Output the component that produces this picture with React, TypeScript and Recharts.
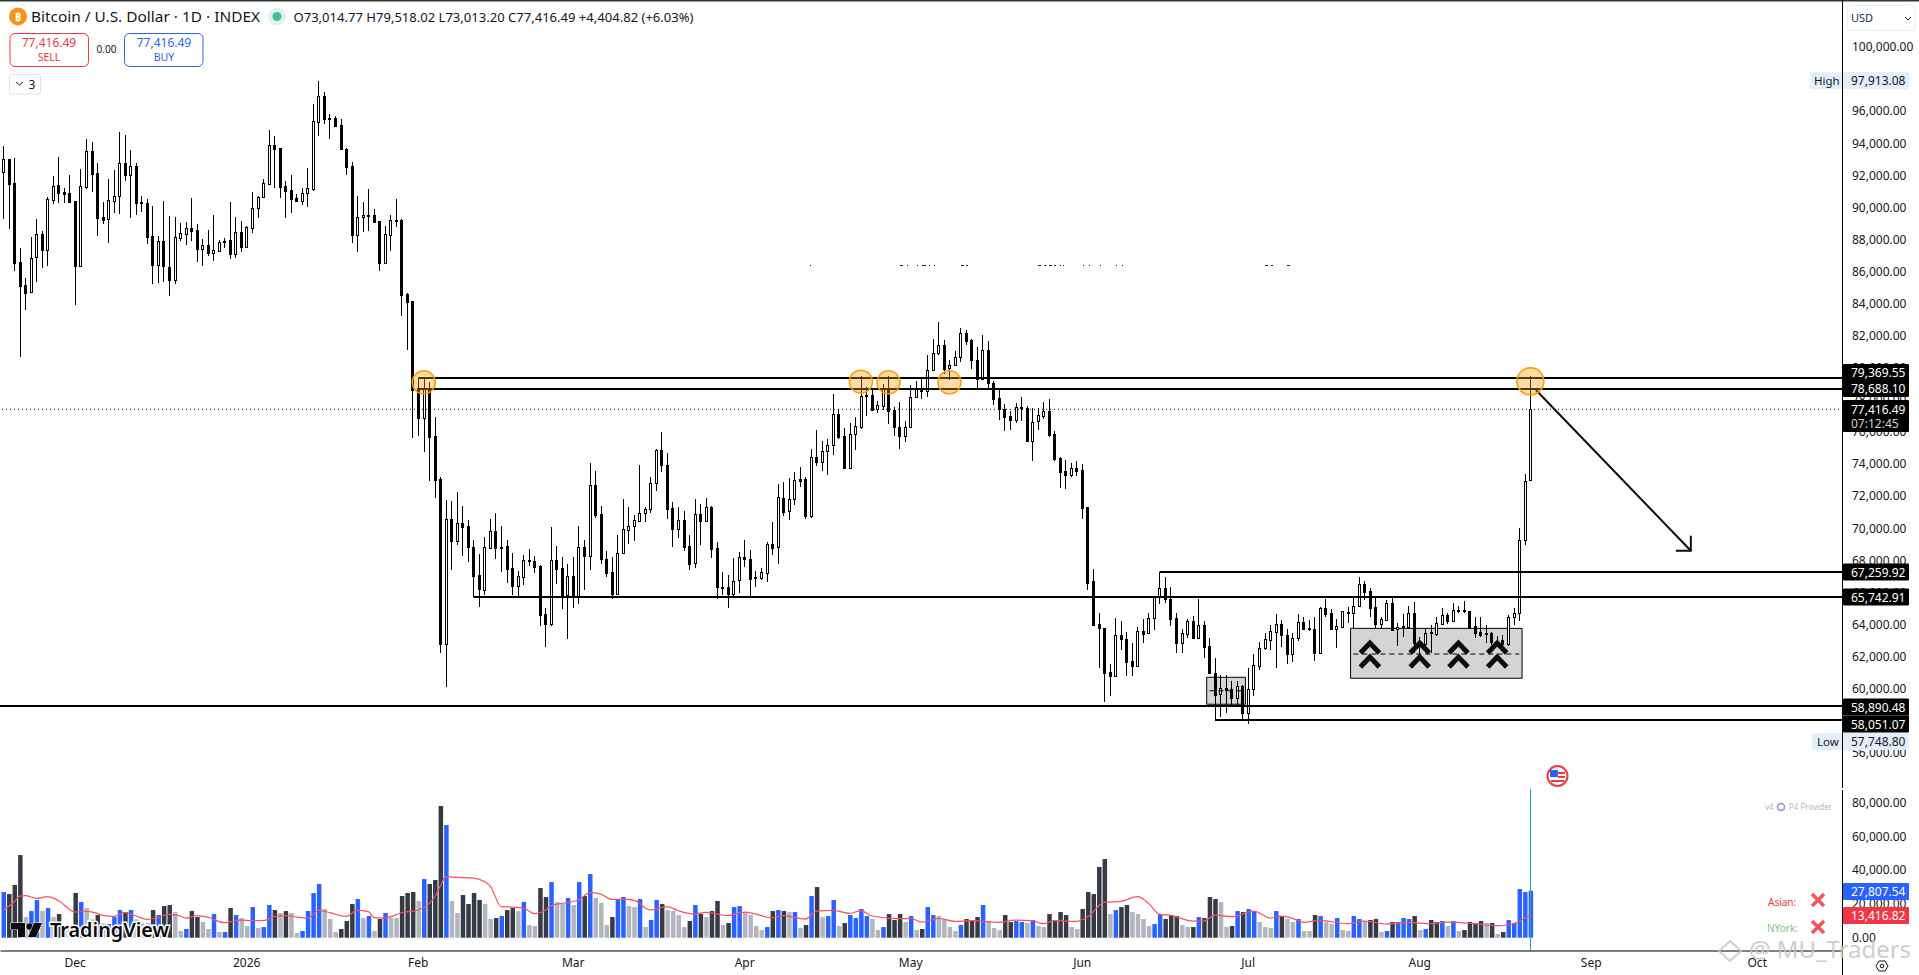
import { Bar, Cell, ComposedChart, Line, ReferenceArea, ReferenceDot, ReferenceLine, XAxis, YAxis } from "recharts"

// daily candles, thousands of USD
const opens = [
  92.23, 93.02, 91.51, 86.58, 85.14, 84.75, 86.89, 88.33, 87.37, 90.49,
  91.38, 90.97, 90.88, 90.38, 86.35, 91.3, 93.5, 92.13, 89.41, 89.26,
  90.43, 90.7, 92.75, 92.05, 92.57, 90.34, 90.26, 88.2, 86.42, 87.89,
  86.29, 85.5, 88.12, 88.37, 88.7, 88.58, 87.43, 87.64, 87.18, 87.31,
  87.89, 87.95, 87.12, 88.45, 87.56, 88.74, 89.95, 90.63, 91.49, 93.88,
  93.69, 91.32, 91.07, 90.57, 90.43, 90.92, 91.17, 95.35, 96.93, 95.58,
  95.56, 95.12, 93.65, 92.57, 88.31, 89.39, 89.53, 89.51, 89.14, 86.56,
  88.31, 89.2, 89.2, 84.59, 84.17, 78.73, 76.9, 78.73, 75.73, 73.05,
  62.81, 70.56, 69.23, 70.31, 70.12, 68.81, 67.07, 66.17, 68.75, 69.81,
  68.85, 68.88, 67.5, 66.42, 66.98, 68.02, 67.96, 67.65, 64.64, 64.03,
  68.0, 67.5, 65.84, 67.0, 65.78, 68.81, 68.3, 72.68, 70.87, 68.07,
  67.25, 65.92, 68.44, 69.91, 70.16, 70.48, 70.93, 71.18, 72.8, 74.88,
  73.93, 71.24, 69.94, 70.5, 68.88, 67.86, 70.87, 70.48, 71.3, 68.75,
  66.32, 66.32, 65.92, 66.76, 68.19, 68.07, 66.96, 66.92, 67.23, 69.0,
  68.81, 71.87, 71.06, 71.8, 73.05, 73.05, 70.74, 74.42, 74.15, 74.8,
  75.17, 77.1, 75.73, 73.78, 75.86, 76.29, 78.31, 78.31, 77.44, 77.65,
  78.66, 77.37, 76.34, 75.73, 76.3, 78.2, 78.66, 78.54, 79.85, 80.91,
  81.41, 80.01, 80.2, 80.66, 82.15, 81.74, 80.47, 79.29, 81.09, 79.04,
  78.1, 77.42, 77.0, 76.77, 77.54, 77.52, 75.46, 76.67, 77.02, 77.29,
  75.86, 74.36, 73.55, 73.34, 73.78, 73.61, 71.31, 66.7, 64.01, 63.76,
  61.02, 60.81, 63.33, 63.08, 61.71, 61.44, 63.58, 63.5, 64.39, 65.7,
  66.26, 65.59, 64.39, 62.87, 63.43, 64.24, 63.18, 63.95, 62.64, 61.0,
  59.69, 60.02, 59.96, 59.44, 60.17, 58.5, 59.96, 61.44, 62.52, 63.06,
  63.56, 64.01, 63.35, 62.18, 63.14, 64.14, 63.76, 63.7, 62.25, 65.01,
  64.7, 63.74, 63.87, 64.76, 64.7, 65.18, 66.5, 66.07, 65.07, 64.05,
  64.3, 65.32, 63.7, 63.89, 63.87, 64.7, 62.83, 62.77, 63.56, 63.43,
  64.05, 64.57, 64.24, 64.9, 64.88, 64.82, 63.91, 63.53, 63.47, 63.45,
  63.0, 63.03, 62.79, 64.49, 64.7, 69.3, 73.01,
]
const highs = [
  93.83, 93.04, 93.09, 87.45, 85.58, 88.14, 89.26, 88.51, 90.63, 91.94,
  93.13, 91.2, 92.01, 90.43, 92.38, 94.25, 94.06, 92.75, 90.32, 91.76,
  92.32, 94.69, 94.52, 93.56, 92.75, 90.72, 90.51, 90.09, 88.2, 90.41,
  89.47, 89.39, 89.01, 89.1, 90.59, 88.97, 88.04, 88.6, 89.53, 87.95,
  88.08, 90.32, 89.39, 89.14, 88.83, 90.95, 90.72, 91.76, 94.81, 94.46,
  93.69, 91.63, 92.01, 90.82, 91.2, 92.44, 96.43, 97.91, 97.18, 95.81,
  95.68, 95.5, 93.69, 92.82, 90.72, 90.32, 91.13, 89.89, 89.18, 88.83,
  89.53, 90.51, 89.26, 84.65, 84.17, 79.35, 79.35, 79.14, 76.92, 73.22,
  71.77, 71.68, 72.24, 71.39, 70.5, 69.25, 68.4, 69.46, 70.58, 70.93,
  70.12, 69.25, 68.44, 67.34, 68.33, 68.69, 68.27, 67.71, 65.01, 70.06,
  68.9, 68.2, 67.75, 68.2, 70.12, 69.25, 74.05, 73.57, 71.41, 68.58,
  68.2, 69.56, 71.8, 71.3, 70.83, 73.93, 71.3, 73.18, 74.94, 75.98,
  74.67, 71.62, 71.35, 71.06, 69.56, 71.8, 71.5, 71.87, 71.39, 69.14,
  67.28, 67.07, 68.13, 68.52, 69.25, 68.63, 67.32, 67.5, 69.12, 70.37,
  72.74, 72.87, 73.12, 73.51, 73.8, 73.18, 74.92, 76.13, 75.42, 75.55,
  78.35, 77.42, 76.23, 76.54, 76.92, 79.5, 78.8, 78.66, 77.93, 79.0,
  79.5, 77.54, 77.9, 76.67, 78.91, 79.16, 79.33, 80.78, 81.78, 82.84,
  81.72, 80.47, 81.03, 82.47, 82.36, 81.78, 81.28, 82.03, 81.66, 79.16,
  78.66, 77.73, 77.29, 77.79, 78.2, 77.6, 77.5, 77.48, 77.85, 78.04,
  76.05, 74.46, 74.24, 74.05, 74.17, 74.01, 71.31, 67.44, 64.7, 63.76,
  61.52, 64.39, 64.2, 63.52, 62.83, 63.87, 64.33, 64.7, 65.7, 67.27,
  66.94, 66.32, 64.7, 63.72, 64.33, 64.51, 65.57, 64.2, 63.14, 61.89,
  60.86, 60.86, 60.48, 60.5, 60.23, 61.27, 62.14, 62.89, 63.45, 63.95,
  64.66, 64.28, 63.7, 63.45, 64.64, 64.45, 64.28, 64.49, 65.07, 65.59,
  64.95, 64.32, 64.82, 65.07, 65.7, 66.94, 66.71, 66.26, 65.7, 64.45,
  65.53, 65.7, 64.08, 64.66, 65.16, 65.38, 63.2, 63.72, 63.97, 64.49,
  65.01, 64.74, 65.32, 65.15, 65.44, 64.82, 64.47, 64.47, 63.97, 63.55,
  63.3, 63.35, 64.57, 65.01, 70.0, 73.36, 79.52,
]
const lows = [
  89.3, 88.68, 86.06, 80.64, 83.57, 84.75, 85.36, 86.19, 86.35, 90.18,
  90.28, 90.28, 90.34, 83.94, 86.27, 91.11, 90.97, 88.18, 88.97, 87.78,
  89.66, 89.6, 91.67, 89.3, 89.53, 89.72, 87.68, 85.25, 85.3, 85.38,
  84.5, 85.19, 87.87, 87.66, 87.91, 86.6, 86.37, 87.0, 86.66, 87.18,
  87.43, 86.79, 86.81, 87.18, 87.43, 88.37, 89.35, 90.61, 91.49, 91.22,
  90.59, 89.3, 89.66, 90.34, 90.16, 90.03, 91.01, 94.46, 95.16, 94.27,
  95.02, 93.63, 91.98, 87.78, 87.23, 88.47, 88.54, 89.1, 86.06, 86.5,
  87.29, 88.78, 83.24, 81.07, 75.65, 75.71, 74.71, 72.97, 71.85, 62.25,
  60.13, 67.36, 68.92, 68.3, 67.9, 65.72, 65.11, 65.84, 68.7, 68.09,
  67.28, 66.59, 65.84, 65.78, 66.46, 67.65, 67.2, 63.93, 62.56, 63.91,
  66.53, 64.97, 63.06, 65.05, 65.28, 66.15, 67.4, 70.66, 67.77, 66.98,
  65.61, 65.84, 68.4, 69.02, 69.2, 70.35, 70.35, 70.91, 72.35, 73.49,
  70.54, 68.79, 69.42, 68.54, 67.36, 67.48, 68.92, 70.41, 68.15, 65.57,
  65.86, 65.01, 65.78, 65.99, 67.57, 65.78, 66.3, 66.78, 66.61, 68.33,
  67.73, 70.72, 70.48, 71.45, 72.55, 70.54, 70.62, 73.88, 73.57, 73.32,
  74.57, 75.55, 73.78, 73.72, 74.84, 76.17, 77.02, 77.33, 77.21, 77.37,
  76.5, 75.71, 74.96, 75.34, 76.25, 78.08, 78.08, 78.19, 79.81, 80.78,
  79.6, 79.25, 80.16, 80.33, 81.4, 79.89, 78.73, 79.22, 78.73, 77.65,
  76.71, 76.02, 76.13, 76.52, 76.73, 75.34, 74.22, 76.09, 76.8, 75.65,
  74.15, 72.53, 72.41, 73.16, 73.26, 70.6, 66.11, 63.99, 61.29, 59.13,
  59.5, 60.75, 62.41, 60.75, 60.75, 61.42, 62.81, 63.45, 63.62, 65.3,
  65.32, 63.87, 62.18, 62.25, 63.16, 63.16, 63.16, 61.87, 61.0, 58.05,
  58.24, 58.46, 58.9, 58.9, 58.05, 57.75, 59.54, 61.17, 62.41, 62.41,
  61.29, 62.62, 61.52, 61.66, 62.93, 63.62, 63.62, 61.75, 62.2, 64.49,
  63.7, 62.5, 63.87, 64.08, 63.76, 65.18, 65.53, 64.45, 63.7, 63.7,
  64.24, 63.56, 62.66, 63.24, 63.7, 62.2, 62.0, 62.4, 62.2, 63.3,
  63.97, 64.03, 64.12, 64.7, 64.7, 63.77, 63.14, 63.24, 62.87, 62.72,
  62.6, 62.6, 62.66, 63.97, 64.18, 68.92, 73.01,
]
const closes = [
  93.0, 91.49, 86.56, 85.12, 84.69, 86.83, 88.33, 87.35, 90.51, 91.32,
  90.92, 90.84, 90.34, 86.35, 91.32, 93.5, 92.11, 89.37, 89.22, 90.45,
  90.7, 92.75, 92.05, 92.57, 90.28, 90.28, 88.18, 86.42, 87.89, 86.35,
  85.48, 88.14, 88.39, 88.7, 88.54, 87.43, 87.64, 87.18, 87.33, 87.83,
  87.85, 87.12, 88.45, 87.56, 88.76, 89.95, 90.63, 91.51, 93.88, 93.67,
  91.3, 91.05, 90.55, 90.43, 90.88, 91.2, 95.37, 96.93, 95.54, 95.54,
  95.08, 93.65, 92.55, 88.31, 89.39, 89.51, 89.49, 89.12, 86.56, 88.33,
  89.2, 89.16, 84.55, 84.13, 78.62, 76.9, 78.73, 75.71, 73.01, 62.81,
  70.56, 69.23, 70.31, 70.1, 68.81, 67.05, 66.24, 68.81, 69.81, 68.79,
  68.79, 67.48, 66.42, 67.0, 68.0, 67.98, 67.61, 64.6, 64.03, 68.0,
  67.48, 65.84, 67.0, 65.72, 68.81, 68.3, 72.68, 70.85, 68.09, 67.23,
  65.92, 68.44, 69.94, 70.16, 70.5, 70.93, 71.18, 72.8, 74.88, 73.93,
  71.22, 69.94, 70.5, 68.85, 67.8, 70.87, 70.48, 71.3, 68.73, 66.36,
  66.28, 65.92, 66.69, 68.19, 68.07, 66.86, 66.92, 67.25, 69.0, 68.79,
  71.93, 71.02, 71.8, 72.99, 72.97, 70.74, 74.42, 74.15, 74.8, 75.17,
  77.1, 75.71, 73.78, 75.86, 76.36, 78.23, 78.25, 77.37, 77.67, 78.66,
  77.33, 76.34, 75.73, 76.3, 78.2, 78.66, 78.54, 79.85, 80.91, 81.41,
  79.91, 80.16, 80.66, 82.15, 81.7, 80.47, 79.29, 81.09, 79.04, 78.08,
  77.42, 76.96, 76.77, 77.54, 77.5, 75.44, 76.65, 77.04, 77.29, 75.84,
  74.34, 73.53, 73.34, 73.78, 73.59, 71.29, 66.61, 63.99, 63.81, 61.0,
  60.81, 63.33, 63.08, 61.69, 61.44, 63.58, 63.43, 64.39, 65.7, 66.26,
  65.57, 64.37, 62.87, 63.47, 64.2, 63.18, 63.95, 62.62, 61.0, 59.63,
  60.02, 59.92, 59.44, 60.15, 58.48, 59.96, 61.46, 62.52, 63.08, 63.58,
  64.03, 63.33, 62.18, 63.14, 64.14, 63.74, 63.72, 62.25, 65.01, 64.66,
  63.74, 63.89, 64.82, 64.7, 65.18, 66.5, 66.05, 65.05, 64.03, 64.32,
  65.32, 63.66, 63.83, 63.85, 64.7, 62.83, 62.9, 63.5, 63.47, 64.08,
  64.57, 64.24, 64.88, 64.84, 64.84, 63.8, 63.49, 63.35, 63.43, 62.91,
  62.8, 62.79, 64.45, 64.7, 69.3, 72.97, 77.42,
]

const volumes = [
  27060, 25870, 31200, 48980, 12250, 15800, 22320, 15800, 17580, 12250,
  14020, 6520, 5530, 26470, 21130, 17580, 10860, 13430, 8490, 8100,
  12250, 16390, 15210, 16390, 10860, 8490, 8490, 16390, 13430, 18760,
  19360, 15210, 3950, 5140, 15800, 12250, 9280, 5140, 14020, 3360,
  3360, 17580, 13430, 11650, 6910, 18170, 5730, 6320, 19360, 16390,
  14620, 15800, 14620, 2770, 3950, 15800, 26470, 31800, 16990, 11060,
  3360, 5140, 9880, 19950, 22910, 11650, 12840, 3950, 11060, 14620,
  11650, 11650, 24690, 26470, 27060, 21730, 34760, 31800, 34170, 78010,
  66760, 21730, 14620, 25280, 19950, 26470, 22320, 19950, 11060, 11650,
  12840, 16390, 17580, 15800, 21130, 7510, 6910, 29430, 24100, 32980,
  21130, 19950, 23500, 19360, 32980, 24690, 37720, 23500, 20540, 7510,
  12250, 22320, 24100, 18760, 18170, 22910, 6320, 10470, 22320, 19950,
  16390, 15800, 13430, 6320, 9880, 19360, 14020, 12250, 15800, 21730,
  7510, 8690, 18170, 18760, 15210, 13430, 6910, 4540, 6320, 15800,
  16390, 15800, 15210, 15210, 5730, 7510, 24690, 30020, 12250, 12840,
  22320, 6910, 8690, 13430, 11650, 16990, 12840, 11060, 4540, 6320,
  14020, 10470, 14020, 9280, 12840, 4540, 5140, 18170, 13430, 12840,
  11060, 6320, 3950, 7510, 11060, 9880, 12250, 19360, 9880, 5730,
  4540, 13430, 9280, 9880, 9280, 8690, 10470, 6910, 6320, 14020,
  10470, 15210, 13430, 6320, 5140, 16990, 27060, 25870, 41870, 46610,
  14020, 16390, 18170, 19360, 15210, 14020, 11060, 6910, 8100, 14020,
  11060, 13430, 12840, 7510, 6320, 6320, 12250, 11650, 24100, 22910,
  21130, 6320, 6910, 15800, 15210, 16990, 15800, 9280, 6320, 5730,
  15800, 12840, 11060, 9280, 11060, 3950, 3950, 13430, 12840, 9280,
  8100, 11650, 4540, 3950, 12840, 11060, 9880, 10470, 11060, 3360,
  3950, 9280, 9280, 11650, 11060, 12840, 4540, 5140, 10470, 9280,
  9880, 6910, 9880, 3950, 4540, 9280, 8100, 9880, 8690, 8690,
  2170, 3360, 10470, 8690, 28840, 27060, 27807,
]
// b blue, d dark, g grey
const volumeKinds = (
  "bdddgbbgbg" + "dggdbggdgb" + "bbdbgggdbd" + "dggbddggbg" + "bdbggbgbbd" +
  "gdggbbbbgg" + "gdddbgbgdb" + "ggdddgbddd" + "bggddddggd" + "bddgbggddb" +
  "ggbgbdbggg" + "dbbggbgbbd" + "ggggdbdgdd" + "gdbbggggbd" + "bdgbgdbdgb" +
  "bgdbbbbggb" + "dddgbgdbbg" + "gggbdddbgg" + "gddbbgbggd" + "dddggddddd" +
  "gbddggggbb" + "dddggdbddd" + "ggdbdbbggg" + "bdggbggdbg" + "gbggbbgddg" +
  "bdbbbdgbdd" + "bgbgddddgd" + "gdbbbbb"
).split("")

const maIndexes = [
  0, 2, 3, 4, 6, 8, 10, 13, 15, 17, 18, 20, 22, 24, 26, 28, 30, 32, 33, 35, 37, 40, 43, 45, 47, 49, 51, 54, 55, 57,
  59, 62, 64, 66, 67, 69, 72, 75, 77, 78, 79, 80, 82, 85, 87, 88, 90, 92, 94, 96, 98, 99, 101, 104, 106, 108, 110, 113, 115,
  116, 117, 120, 122, 125, 127, 131, 134, 139, 141, 145, 147, 150, 153, 155, 157, 162, 164, 166, 169, 172, 175, 180,
  183, 186, 188, 190, 194, 196, 199, 202, 205, 207, 209, 211, 215, 217, 219, 222, 226, 229,
  231, 233, 235, 238, 243, 246, 250, 254, 258, 261, 266, 270, 272, 276,
]
const maValues = [
  16390, 21330, 24690, 24890, 23300, 24290, 21920, 15210, 15600, 14420, 13230, 12640, 14810, 12840, 10860, 12050, 13830, 12840, 11650, 13040, 12050, 8890, 10470, 10070, 10070, 12440, 13040, 11850, 11650, 16200,
  14810, 12640, 16390, 15410, 11850, 11650, 14810, 16390, 20340, 24290, 30610, 36140, 35750, 35350, 33180, 30610, 18370, 18170, 17580, 14220, 16390, 18960, 20340, 22320, 26660, 25870, 22710, 22710, 20540,
  17580, 16390, 18370, 16000, 14020, 15010, 13040, 15210, 11850, 13040, 11060, 15800, 16200, 14420, 16000, 12840, 11260, 11460, 9280, 11460, 9680, 10070, 9090,
  10470, 10070, 8300, 10070, 9680, 12440, 20940, 21530, 24290, 20340, 13830, 13230, 9880, 9880, 13430, 12440, 15800, 11650,
  12840, 11460, 9090, 10270, 8300, 9880, 8100, 9090, 8300, 9280, 8300, 7110, 7510, 13416,
]

const priceTicks = [56000, 58000, 60000, 62000, 64000, 66000, 68000, 70000, 72000, 74000, 76000, 78000, 80000, 82000, 84000, 86000, 88000, 90000, 92000, 94000, 96000, 98000, 100000]
const volumeTicks = [0, 20000, 40000, 60000, 80000]
const monthTicks = ["2025-12-01", "2026-01-01", "2026-02-01", "2026-03-01", "2026-04-01", "2026-05-01", "2026-06-01", "2026-07-01", "2026-08-01", "2026-09-01", "2026-10-01"]
const monthLabels = ["Dec", "2026", "Feb", "Mar", "Apr", "May", "Jun", "Jul", "Aug", "Sep", "Oct"]

// levels drawn on the chart: price, index of the bar they start on
const levelPrices = [79369.55, 78688.1, 67259.92, 65742.91, 58890.48, 58051.07]
const levelStarts = [75, 75, 209, 85, 0, 219]
const circleBars = [76, 155, 160, 171, 276]
const circlePrices = [79100, 79140, 79100, 79100, 79160]
const chevronBars = [247, 256, 263, 270]
// leftovers of a blanked out text line, x and width
const speckXs = [810, 900, 907, 917, 922, 929, 934, 961, 966, 1038, 1044, 1049, 1054, 1060, 1063, 1083, 1089, 1100, 1116, 1122, 1265, 1271, 1287]
const speckWidths = [1, 3, 1, 1, 4, 1, 1, 3, 2, 3, 2, 3, 2, 1, 1, 1, 1, 1, 1, 1, 3, 2, 3]

const TOTAL_SLOTS = 333
const WIDTH = 1919
const AXIS_W = 76
const PLOT_RIGHT = WIDTH - AXIS_W
const FONT = "'Noto Sans', sans-serif"
const INK = "#131722"

const START = Date.UTC(2025, 10, 18)
const days = Array.from({ length: TOTAL_SLOTS }, (_, i) => new Date(START + i * 86400000).toISOString().slice(0, 10))

const maByIndex = new Map(maIndexes.map((idx, k) => [idx, maValues[k]]))
const rows = days.map((day, i) =>
  i < opens.length
    ? {
        day,
        open: opens[i] * 1000,
        high: highs[i] * 1000,
        low: lows[i] * 1000,
        close: closes[i] * 1000,
        range: [lows[i] * 1000, highs[i] * 1000],
        volume: volumes[i],
        kind: volumeKinds[i],
        ma: maByIndex.get(i),
      }
    : { day },
)

const kindColors: Record<string, string> = { b: "#2962ff", d: "#363a45", g: "#b2b5be" }

const money = (v: number) => v.toLocaleString("en-US", { minimumFractionDigits: 2, maximumFractionDigits: 2 })

function Candle(props: any) {
  const { x, y, width, height, payload } = props
  if (payload.high === undefined || !Number.isFinite(y)) return null
  const { open, high, low, close } = payload
  const toY = (v: number) => Math.round(y + ((high - v) / (high - low)) * height)
  const px = Math.round(x + width / 2 - 0.5)
  const top = toY(Math.max(open, close))
  const bottom = Math.max(toY(Math.min(open, close)), top + 1)
  return (
    <g shapeRendering="crispEdges">
      <rect x={px} y={Math.round(y)} width={1} height={Math.max(1, Math.round(height))} fill="#000" />
      <rect x={px - 1} y={top} width={3} height={bottom - top + 1} fill="#000" />
      {close >= open && <rect x={px} y={top + 1} width={1} height={bottom - top - 1} fill="#fff" />}
    </g>
  )
}

// runs a level on to the price scale, the one that starts on the first bar also to the left edge
const levelShape = (p: any, fromEdge: boolean) => {
  const y = Math.round(p.y1)
  return <line x1={fromEdge ? 0 : p.x1} y1={y} x2={PLOT_RIGHT} y2={y} stroke="#000" strokeWidth={2} />
}

const arrowShape = (p: any) => (
  <g stroke="#0d0d0d" strokeWidth={2} fill="none">
    <line x1={p.x1} y1={p.y1} x2={p.x2} y2={p.y2} />
    <polyline points={`${p.x2},${p.y2 - 15} ${p.x2},${p.y2} ${p.x2 - 15},${p.y2}`} />
  </g>
)

const chevronShape = (p: any) => {
  const { cx, cy } = p
  const arm = (dy: number) => `${cx - 9.5},${cy + dy + 10} ${cx},${cy + dy} ${cx + 9.5},${cy + dy + 10}`
  return (
    <g fill="none" stroke="#0c0c0c" strokeWidth={5}>
      <polyline points={arm(-11)} />
      <polyline points={arm(3)} />
    </g>
  )
}

function PriceChart() {
  return (
    <ComposedChart width={WIDTH} height={788} data={rows} barCategoryGap={0} margin={{ top: 0, right: 0, bottom: 0, left: 0.5 }}>
      <XAxis dataKey="day" hide />
      <YAxis
        orientation="right"
        width={AXIS_W}
        domain={[53808, 102935]}
        allowDataOverflow
        ticks={priceTicks}
        interval={0}
        axisLine={false}
        tickLine={false}
        tickSize={0}
        tickMargin={9}
        tickFormatter={money}
        tick={{ fontSize: 12, fill: INK, fontFamily: FONT }}
      />
      <ReferenceArea x1={days[244]} x2={days[274]} y1={60650} y2={63760} fill="#d4d4d4" fillOpacity={1} stroke="#000" strokeWidth={1} />
      <ReferenceArea x1={days[218]} x2={days[224]} y1={59030} y2={60710} fill="#d4d4d4" fillOpacity={1} stroke="#000" strokeWidth={1} />
      <ReferenceLine y={77416.49} stroke="#000" strokeDasharray="1 3" strokeWidth={1} />
      <Bar dataKey="range" shape={<Candle />} isAnimationActive={false} />
      <ReferenceLine segment={[{ x: days[244], y: 62160 }, { x: days[274], y: 62160 }]} stroke="#000" strokeDasharray="5 4" strokeWidth={1} />
      <ReferenceLine segment={[{ x: days[218], y: 59870 }, { x: days[224], y: 59870 }]} stroke="#000" strokeDasharray="5 4" strokeWidth={1} />
      {levelPrices.map((price, k) => (
        <ReferenceLine
          key={price}
          segment={[{ x: days[levelStarts[k]], y: price }, { x: days[TOTAL_SLOTS - 1], y: price }]}
          shape={(p: any) => levelShape(p, levelStarts[k] === 0)}
        />
      ))}
      <ReferenceLine segment={[{ x: days[277], y: 78620 }, { x: days[305], y: 68600 }]} shape={arrowShape} />
      {chevronBars.map((bar) => (
        <ReferenceDot key={bar} x={days[bar]} y={62160} r={1} shape={chevronShape} />
      ))}
      {circleBars.map((bar, k) => (
        <ReferenceDot
          key={bar}
          x={days[bar]}
          y={circlePrices[k]}
          r={k === 4 ? 13.5 : 11.5}
          fill="#ff9800"
          fillOpacity={0.35}
          stroke="#ff9800"
          strokeWidth={1.5}
        />
      ))}
    </ComposedChart>
  )
}

function VolumeChart() {
  return (
    <ComposedChart width={WIDTH} height={186} data={rows} barCategoryGap={0} margin={{ top: 0, right: 0, bottom: 0, left: 0.5 }}>
      <XAxis
        dataKey="day"
        height={24}
        ticks={monthTicks}
        interval={0}
        tickLine={false}
        tickSize={0}
        tickMargin={7}
        axisLine={{ stroke: "#000" }}
        tickFormatter={(d: string) => monthLabels[monthTicks.indexOf(d)]}
        tick={{ fontSize: 12, fill: INK, fontFamily: FONT }}
      />
      <YAxis
        orientation="right"
        width={AXIS_W}
        domain={[-7880, 88120]}
        allowDataOverflow
        ticks={volumeTicks}
        interval={0}
        axisLine={false}
        tickLine={false}
        tickSize={0}
        tickMargin={9}
        tickFormatter={money}
        tick={{ fontSize: 12, fill: INK, fontFamily: FONT }}
      />
      <ReferenceLine x={days[276]} stroke="#22a6c9" strokeWidth={1} shapeRendering="crispEdges" />
      <Bar dataKey="volume" barSize={4.5} isAnimationActive={false}>
        {rows.map((r: any) => (
          <Cell key={r.day} fill={kindColors[r.kind] ?? "transparent"} />
        ))}
      </Bar>
      <Line dataKey="ma" type="monotone" connectNulls dot={false} stroke="#f7525f" strokeWidth={1.2} isAnimationActive={false} />
    </ComposedChart>
  )
}

function Tag(props: { y: number; label: string; fill?: string }) {
  return (
    <g>
      <rect x={1843} y={props.y - 8.5} width={66} height={17} fill={props.fill ?? "#000"} rx={1} />
      <text x={1851} y={props.y + 4.5} fontSize={12} fill="#fff">{props.label}</text>
    </g>
  )
}

function Overlay() {
  return (
    <svg width={1919} height={975} style={{ position: "absolute", left: 0, top: 0, pointerEvents: "none", fontFamily: FONT }}>
      <rect x={0} y={0} width={1919} height={1.5} fill="#2b3a2c" />
      {speckXs.map((x, k) => (
        <rect key={x} x={x} y={265} width={speckWidths[k]} height={1} fill="#222" />
      ))}
      {/* header */}
      <circle cx={18} cy={16.5} r={9} fill="#f7931a" />
      <text x={18} y={20.5} fontSize={11} fontWeight={700} fill="#fff" textAnchor="middle">₿</text>
      <text x={31} y={22} fontSize={14} fill={INK} textLength={229} lengthAdjust="spacingAndGlyphs">Bitcoin / U.S. Dollar · 1D · INDEX</text>
      <circle cx={277} cy={16.5} r={9} fill="#dff3ee" />
      <circle cx={277} cy={16.5} r={4.5} fill="#4db6a0" />
      <text x={293.5} y={21.5} fontSize={12.5} fill={INK} textLength={400} lengthAdjust="spacingAndGlyphs">O73,014.77  H79,518.02  L73,013.20  C77,416.49  +4,404.82 (+6.03%)</text>
      <rect x={10} y={33.5} width={78.5} height={33} rx={5} fill="#fff" stroke="#f23645" />
      <text x={49} y={47} fontSize={12} fill="#f23645" textAnchor="middle">77,416.49</text>
      <text x={49} y={61} fontSize={10.5} fill="#f23645" textAnchor="middle">SELL</text>
      <text x={106.5} y={53} fontSize={10} fill={INK} textAnchor="middle">0.00</text>
      <rect x={124.5} y={33.5} width={78.5} height={33} rx={5} fill="#fff" stroke="#2962ff" />
      <text x={164} y={47} fontSize={12} fill="#2962ff" textAnchor="middle">77,416.49</text>
      <text x={164} y={61} fontSize={10.5} fill="#2962ff" textAnchor="middle">BUY</text>
      <rect x={9.5} y={74.5} width={31} height={19.5} rx={2} fill="#fff" stroke="#e0e3eb" />
      <polyline points="16,82 19.5,85 23,82" fill="none" stroke={INK} strokeWidth={1} />
      <text x={32} y={89} fontSize={12} fill={INK} textAnchor="middle">3</text>
      <rect x={1847} y={5.5} width={68} height={25} rx={4} fill="#fff" stroke="#eceef2" />
      <text x={1851} y={22} fontSize={11} fill="#0b2a66">USD</text>
      <polyline points="1905,17 1908,20 1911,17" fill="none" stroke={INK} strokeWidth={1} />
      {/* high and low */}
      <rect x={1810} y={72} width={99} height={17} rx={2} fill="#e3effd" />
      <text x={1814} y={84.5} fontSize={11.5} fill={INK}>High</text>
      <text x={1851} y={84.5} fontSize={12} fill={INK}>97,913.08</text>
      <rect x={1812} y={733} width={97} height={17} rx={2} fill="#e3effd" />
      <text x={1817} y={745.5} fontSize={11.5} fill={INK}>Low</text>
      <text x={1851} y={745.5} fontSize={12} fill={INK}>57,748.80</text>
      {/* price tags */}
      <rect x={1843} y={364} width={66} height={33} fill="#000" rx={1} />
      <text x={1851} y={376.5} fontSize={12} fill="#fff">79,369.55</text>
      <text x={1851} y={392.5} fontSize={12} fill="#fff">78,688.10</text>
      <rect x={1843} y={400} width={66} height={32} fill="#000" rx={1} />
      <text x={1851} y={413.5} fontSize={12} fill="#fff">77,416.49</text>
      <text x={1851} y={427.5} fontSize={12} fill="#d0d0d0">07:12:45</text>
      <Tag y={572} label="67,259.92" />
      <Tag y={597} label="65,742.91" />
      <Tag y={707} label="58,890.48" />
      <Tag y={724} label="58,051.07" />
      <Tag y={891.5} label="27,807.54" fill="#2962ff" />
      <Tag y={915.5} label="13,416.82" fill="#f23645" />
      {/* scale border */}
      <line x1={1842.5} y1={0} x2={1842.5} y2={788} stroke="#000" />
      <line x1={1842.5} y1={790} x2={1842.5} y2={975} stroke="#000" />
      {/* flag marker */}
      <circle cx={1557.5} cy={776} r={10} fill="#fff" stroke="#f23645" strokeWidth={2} />
      <rect x={1550} y={770} width={8} height={7} fill="#2962ff" />
      <rect x={1558} y={772} width={7} height={2} fill="#f23645" />
      <rect x={1558} y={776} width={7} height={2} fill="#f23645" />
      <rect x={1551} y={780} width={13} height={2} fill="#f23645" />
      {/* indicator labels */}
      <text x={1765} y={810} fontSize={8} fill="#b5b5c4">v4</text>
      <circle cx={1781} cy={807} r={3.5} fill="none" stroke="#9a8fd6" strokeWidth={1.5} />
      <text x={1789} y={810} fontSize={8} fill="#b5b5c4">P4 Provider</text>
      <text x={1768} y={906} fontSize={10} fill="#f23645">Asian:</text>
      <text x={1767} y={932} fontSize={10} fill="#7cc47f">NYork:</text>
      <g stroke="#f2555f" strokeWidth={3.5}>
        <line x1={1812} y1={894} x2={1824} y2={906} />
        <line x1={1824} y1={894} x2={1812} y2={906} />
        <line x1={1812} y1={921} x2={1824} y2={933} />
        <line x1={1824} y1={921} x2={1812} y2={933} />
      </g>
      {/* settings */}
      <polygon points="1876,966 1879,961 1885,961 1888,966 1885,971 1879,971" fill="none" stroke={INK} />
      <circle cx={1882} cy={966} r={1.8} fill="none" stroke={INK} />
      {/* logo */}
      <g fill="#0a0a0a" stroke="#fff" strokeWidth={1} paintOrder="stroke">
        <path d="M11 923 H25 V937 H18 V929.5 H11 Z" />
        <circle cx={29.5} cy={926.5} r={3.2} />
        <path d="M34 923 H42 L36 937 H28 Z" />
      </g>
      <text x={50} y={937} fontSize={20} fontWeight={600} fill="#0a0a0a" stroke="#fff" strokeWidth={3} paintOrder="stroke" textLength={119} lengthAdjust="spacingAndGlyphs">TradingView</text>
      {/* watermark */}
      <g opacity={0.85}>
        <polygon points="1730,941 1741,951 1730,961 1719,951" fill="none" stroke="#c6c6c6" strokeWidth={2} />
        <text x={1749} y={958} fontSize={24} fill="#c6c6c6" textLength={162} lengthAdjust="spacingAndGlyphs">@ MU_Traders</text>
      </g>
    </svg>
  )
}

export default function App() {
  return (
    <div style={{ position: "absolute", left: 0, top: 0, width: 1919, height: 975, background: "#fff", overflow: "hidden" }}>
      <div style={{ position: "absolute", left: 0, top: 0 }}>
        <PriceChart />
      </div>
      <div style={{ position: "absolute", left: 0, top: 789 }}>
        <VolumeChart />
      </div>
      <Overlay />
    </div>
  )
}
